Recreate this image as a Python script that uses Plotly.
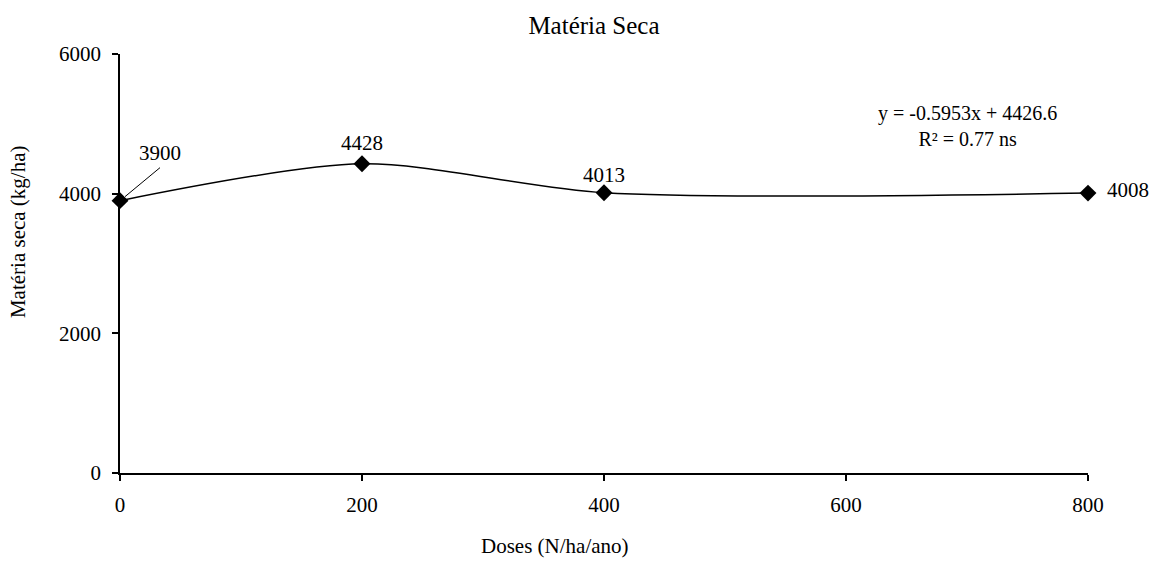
import plotly.graph_objects as go

# Doses de N e produção de matéria seca
doses = [0, 200, 400, 800]
materia_seca = [3900, 4428, 4013, 4008]
x_ticks = [0, 200, 400, 600, 800]
y_ticks = [0, 2000, 4000, 6000]

FONT = "'Liberation Serif', 'Times New Roman', serif"
TXT = dict(family=FONT, size=21, color="black")

fig = go.Figure()
fig.add_trace(go.Scatter(
    x=doses, y=materia_seca,
    mode="lines+markers",
    line=dict(color="black", width=1.5, shape="spline", smoothing=0.8),
    marker=dict(symbol="diamond", size=13, color="black"),
    showlegend=False,
    cliponaxis=False,
))

# Deslocamento (px) de cada rótulo em relação ao ponto
label_shift = {0: (40, 48), 200: (0, 21), 400: (0, 18), 800: (40, 3)}
for x, y in zip(doses, materia_seca):
    dx, dy = label_shift[x]
    fig.add_annotation(x=x, y=y, text=str(y), showarrow=False,
                       xshift=dx, yshift=dy, font=TXT)

# Linha de chamada do primeiro rótulo
fig.add_shape(type="line", xref="x", yref="y",
              xsizemode="pixel", ysizemode="pixel",
              xanchor=doses[0], yanchor=materia_seca[0],
              x0=5, y0=4, x1=40, y1=33,
              line=dict(color="black", width=1))

# Equação da regressão
fig.add_annotation(x=0.876, y=0.829, xref="paper", yref="paper",
                   xanchor="center", yanchor="middle",
                   text="y = -0.5953x + 4426.6<br>R² = 0.77 ns",
                   showarrow=False, align="center",
                   font=dict(family=FONT, size=20, color="black"))

# Títulos dos eixos
fig.add_annotation(x=0.449, y=0, xref="paper", yref="paper", yshift=-73,
                   xanchor="center", yanchor="middle",
                   text="Doses (N/ha/ano)", showarrow=False,
                   font=dict(family=FONT, size=21, color="black"))
fig.add_annotation(x=0, y=0.575, xref="paper", yref="paper", xshift=-102,
                   xanchor="center", yanchor="middle",
                   text="Matéria seca (kg/ha)", showarrow=False, textangle=-90,
                   font=dict(family=FONT, size=21, color="black"))

fig.update_layout(
    width=1152, height=567,
    margin=dict(l=120, r=64, t=54, b=94),
    paper_bgcolor="white", plot_bgcolor="white",
    title=dict(text="Matéria Seca", x=0.5156, xanchor="center",
               y=1 - 25 / 567, yanchor="middle",
               font=dict(family=FONT, size=25, color="black")),
    font=TXT,
    xaxis=dict(range=[0, 800], tickvals=x_ticks, showgrid=False,
               zeroline=False, showline=True, linecolor="black", linewidth=1.5,
               ticks="outside", ticklen=6, tickwidth=1.5, tickcolor="black",
               ticklabelstandoff=6, tickfont=TXT),
    yaxis=dict(range=[0, 6000], tickvals=y_ticks, showgrid=False,
               zeroline=False, showline=True, linecolor="black", linewidth=1.5,
               ticks="outside", ticklen=6, tickwidth=1.5, tickcolor="black",
               ticklabelstandoff=7, tickfont=TXT),
)

fig.write_html("out.html")
